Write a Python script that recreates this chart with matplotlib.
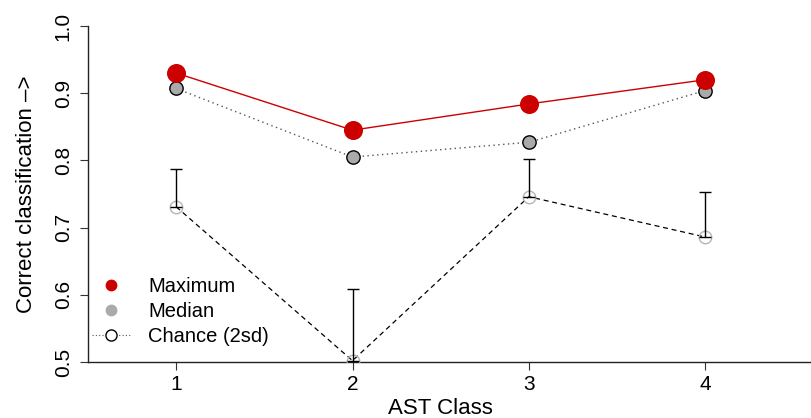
import numpy as np
import matplotlib.pyplot as plt
from matplotlib.lines import Line2D

plt.rcParams['font.family'] = ['Liberation Sans', 'DejaVu Sans']

# AST classes and classification accuracy per class
ast_class = [1, 2, 3, 4]
maximum = [0.930, 0.845, 0.884, 0.920]
median = [0.907, 0.805, 0.827, 0.904]
chance = [0.731, 0.502, 0.746, 0.686]
chance_2sd = [0.787, 0.609, 0.802, 0.753]  # upper end of the 2sd bar

x = np.array(ast_class)
ch = np.array(chance)
upper = np.array(chance_2sd) - ch

fig = plt.figure(figsize=(8.11, 4.18), dpi=100)
ax = fig.add_axes([88 / 811, 56 / 418, 723 / 811, 336 / 418])

red = '#cc0000'
grey = '#aaaaaa'

# chance level with 2sd bar (caps at both ends)
ax.plot(x, ch, ls=(0, (4, 3)), color='black', lw=0.9, zorder=2)
ax.plot(x, ch, 'o', ms=9, mfc='none', mec='#b5b5b5', mew=1, zorder=3)
ax.errorbar(x, ch, yerr=[np.zeros_like(upper), upper], fmt='none',
            ecolor='black', elinewidth=1, capsize=4, capthick=1, zorder=4)

# median
ax.plot(x, median, ls=(0, (1, 2.5)), color='#555555', lw=1, zorder=2)
ax.plot(x, median, 'o', ms=9.6, mfc=grey, mec='black', mew=1, zorder=5)

# maximum
ax.plot(x, maximum, '-', color=red, lw=1, zorder=6)
ax.plot(x, maximum, 'o', ms=13.7, mfc=red, mec=red, mew=0, zorder=7)

ax.set_xlim(0.5, 4.6)
ax.set_ylim(0.5, 1.0)
ax.set_xticks(ast_class)
ax.set_yticks([0.5, 0.6, 0.7, 0.8, 0.9, 1.0])
ax.set_yticklabels(['0.5', '0.6', '0.7', '0.8', '0.9', '1.0'],
                   rotation=90, va='center')
ax.tick_params(direction='out', length=6, width=0.8, labelsize=15,
               color='#333333')
ax.tick_params(axis='y', pad=5)
ax.tick_params(axis='x', pad=3)
for s in ['top', 'right']:
    ax.spines[s].set_visible(False)
for s in ['left', 'bottom']:
    ax.spines[s].set_linewidth(1)
    ax.spines[s].set_color('#222222')

ax.set_xlabel('AST Class', fontsize=16, x=0.487, labelpad=3)
ax.set_ylabel('Correct classification –>', fontsize=16, labelpad=12)

handles = [
    Line2D([], [], ls='none', marker='o', ms=8.5, mfc=red, mec=red, mew=0),
    Line2D([], [], ls='none', marker='o', ms=8.5, mfc=grey, mec=grey, mew=0),
    Line2D([], [], ls=(0, (1, 2)), color='#555555', lw=0.8, marker='o', ms=8,
           mfc='white', mec='black', mew=1),
]
ax.legend(handles, ['Maximum', 'Median', 'Chance (2sd)'], loc='upper left',
          bbox_to_anchor=(0.0, 0.265), frameon=False, fontsize=14.5,
          handlelength=1.9, handletextpad=0.9, labelspacing=0.3,
          borderaxespad=0, borderpad=0.2)

fig.savefig('out.png', dpi=100)
